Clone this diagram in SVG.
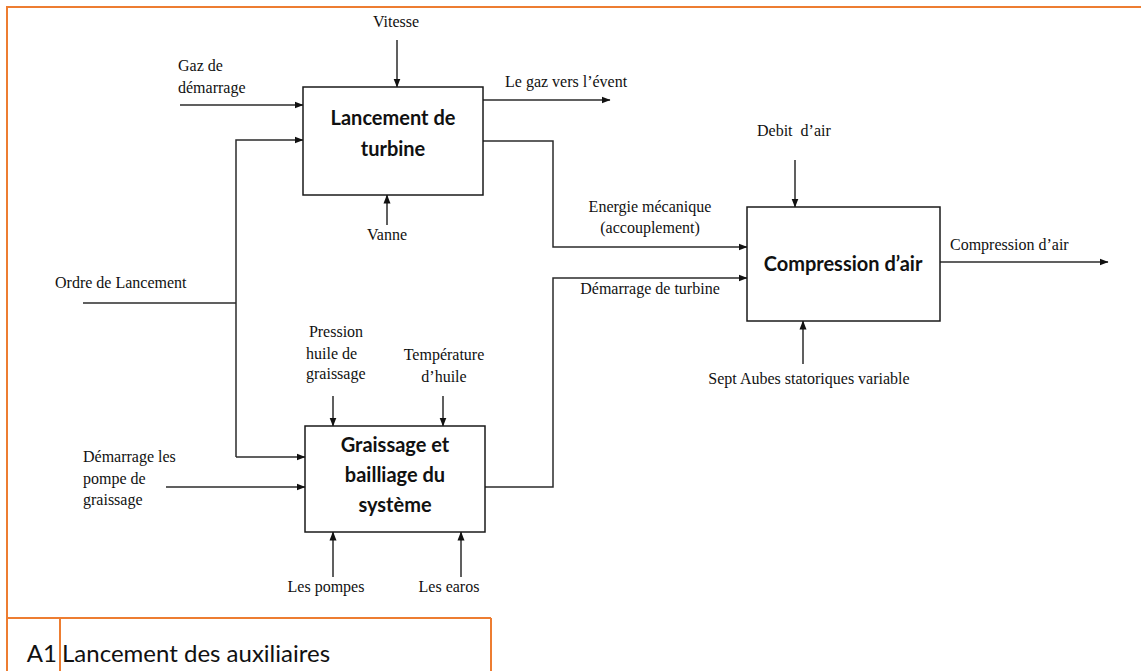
<svg xmlns="http://www.w3.org/2000/svg" width="1141" height="671" viewBox="0 0 1141 671">
  <style>
    .frame { stroke: #ED7D31; stroke-width: 2; fill: none; }
    .box { fill: #ffffff; stroke: #1a1a1a; stroke-width: 1.5; }
    .wire { fill: none; stroke: #2b2b2b; stroke-width: 1.5; }
    .arr { marker-end: url(#head); }
    .lbl { font-family: "Liberation Serif", "Times New Roman", serif; font-size: 16px; fill: #111; }
    .mid { text-anchor: middle; }
    .title { font-family: Lato, "Liberation Sans", sans-serif; font-weight: bold; font-size: 20px; fill: #111; text-anchor: middle; }
    .caption { font-family: Lato, "Liberation Sans", sans-serif; font-size: 24px; fill: #111; }
  </style>
  <defs>
    <marker id="head" markerWidth="9" markerHeight="8" refX="8.5" refY="4" orient="auto" markerUnits="userSpaceOnUse">
      <path d="M0,0.5 L9,4 L0,7.5 Z" fill="#111"/>
    </marker>
  </defs>

  <rect width="1141" height="671" fill="#ffffff"/>

  <!-- page frame and title block -->
  <g id="frame">
    <line class="frame" x1="7" y1="7" x2="1141" y2="7"/>
    <line class="frame" x1="7" y1="6" x2="7" y2="671"/>
    <line class="frame" x1="7" y1="618" x2="491" y2="618"/>
    <line class="frame" x1="60" y1="618" x2="60" y2="671"/>
    <line class="frame" x1="491" y1="618" x2="491" y2="671"/>
    <text class="caption" x="57" y="662" text-anchor="end">A1</text>
    <text class="caption" x="62" y="662">Lancement des auxiliaires</text>
  </g>

  <!-- connectors -->
  <g id="connectors">
    <line class="wire arr" x1="397" y1="40" x2="397" y2="87"/>
    <line class="wire arr" x1="180" y1="105" x2="303" y2="105"/>
    <polyline class="wire arr" points="236,457 236,140 303,140"/>
    <line class="wire" x1="83" y1="303" x2="236" y2="303"/>
    <line class="wire arr" x1="236" y1="457" x2="305" y2="457"/>
    <line class="wire arr" x1="166" y1="487" x2="305" y2="487"/>
    <line class="wire arr" x1="483" y1="100" x2="610" y2="100"/>
    <line class="wire arr" x1="387" y1="225" x2="387" y2="195"/>
    <polyline class="wire arr" points="483,141 553,141 553,247 747,247"/>
    <polyline class="wire arr" points="485,487 553,487 553,278 747,278"/>
    <line class="wire arr" x1="795" y1="160" x2="795" y2="207"/>
    <line class="wire arr" x1="940" y1="262" x2="1108" y2="262"/>
    <line class="wire arr" x1="803" y1="364" x2="803" y2="321"/>
    <line class="wire arr" x1="333" y1="396" x2="333" y2="426"/>
    <line class="wire arr" x1="443" y1="396" x2="443" y2="426"/>
    <line class="wire arr" x1="333" y1="577" x2="333" y2="532"/>
    <line class="wire arr" x1="461" y1="577" x2="461" y2="532"/>
  </g>

  <!-- connector labels -->
  <g id="labels">
    <text class="lbl mid" x="396" y="27">Vitesse</text>
    <text class="lbl" x="178" y="71">Gaz de</text>
    <text class="lbl" x="178" y="93">démarrage</text>
    <text class="lbl" x="505" y="87">Le gaz vers l’évent</text>
    <text class="lbl mid" x="387" y="240">Vanne</text>
    <text class="lbl" x="55" y="288">Ordre de Lancement</text>
    <text class="lbl mid" x="650" y="212">Energie mécanique</text>
    <text class="lbl mid" x="650" y="233">(accouplement)</text>
    <text class="lbl mid" x="650" y="294">Démarrage de turbine</text>
    <text class="lbl" x="757" y="136">Debit&#160; d’air</text>
    <text class="lbl" x="950" y="250">Compression d’air</text>
    <text class="lbl mid" x="809" y="384">Sept Aubes statoriques variable</text>
    <text class="lbl mid" x="336" y="337">Pression</text>
    <text class="lbl" x="306" y="359">huile de</text>
    <text class="lbl" x="306" y="379">graissage</text>
    <text class="lbl mid" x="444" y="360">Température</text>
    <text class="lbl mid" x="444" y="382">d’huile</text>
    <text class="lbl" x="83" y="462">Démarrage les</text>
    <text class="lbl" x="83" y="484">pompe de</text>
    <text class="lbl" x="83" y="505">graissage</text>
    <text class="lbl mid" x="326" y="592">Les pompes</text>
    <text class="lbl mid" x="449" y="592">Les earos</text>
  </g>

  <g id="lancement-turbine">
    <rect class="box" x="303" y="87" width="180" height="108"/>
    <text class="title" x="393" y="125">Lancement de</text>
    <text class="title" x="393" y="156">turbine</text>
  </g>

  <g id="graissage">
    <rect class="box" x="305" y="426" width="180" height="106"/>
    <text class="title" x="395" y="452">Graissage et</text>
    <text class="title" x="395" y="482">bailliage du</text>
    <text class="title" x="395" y="512">système</text>
  </g>

  <g id="compression">
    <rect class="box" x="747" y="207" width="193" height="114"/>
    <text class="title" x="843" y="271">Compression d’air</text>
  </g>
</svg>
